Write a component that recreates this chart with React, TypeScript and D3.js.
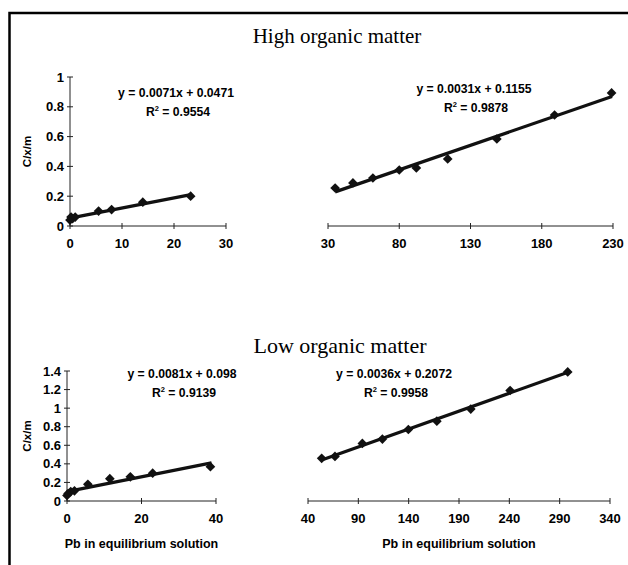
import React from "react";
import * as d3 from "d3";

// High organic matter
const highLowX = [0, 0.2, 0.5, 1, 5.5, 8, 14, 23.2];
const highLowY = [0.04, 0.06, 0.05, 0.06, 0.1, 0.11, 0.16, 0.2];
const highHighX = [35, 47.5, 61.5, 80, 92, 114, 148.5, 189, 229];
const highHighY = [0.255, 0.289, 0.322, 0.376, 0.39, 0.45, 0.584, 0.745, 0.893];

// Low organic matter
const lowLowX = [0, 0.3, 1, 2, 5.6, 11.5, 17, 23, 38.5];
const lowLowY = [0.06, 0.08, 0.1, 0.11, 0.18, 0.24, 0.26, 0.3, 0.37];
const lowHighX = [53.6, 66.8, 94, 113.9, 139.7, 168, 201.7, 240.8, 298];
const lowHighY = [0.46, 0.48, 0.62, 0.667, 0.77, 0.86, 0.99, 1.19, 1.39];

const equations = ["y = 0.0071x + 0.0471", "y = 0.0031x + 0.1155", "y = 0.0081x + 0.098", "y = 0.0036x + 0.2072"];
const rSquared = ["0.9554", "0.9878", "0.9139", "0.9958"];

const highYTicks = [0, 0.2, 0.4, 0.6, 0.8, 1];
const lowYTicks = [0, 0.2, 0.4, 0.6, 0.8, 1, 1.2, 1.4];
const xTicks1 = [0, 10, 20, 30];
const xTicks2 = [30, 80, 130, 180, 230];
const xTicks3 = [0, 20, 40];
const xTicks4 = [40, 90, 140, 190, 240, 290, 340];

const font = "Arial, 'Liberation Sans', sans-serif";
const serif = "'Liberation Serif', 'Times New Roman', serif";

// least squares trend line through the points
const fit = (xs: number[], ys: number[]) => {
  const mx = d3.mean(xs)!;
  const my = d3.mean(ys)!;
  const sxy = d3.sum(xs, (x, i) => (x - mx) * (ys[i] - my));
  const sxx = d3.sum(xs, (x) => (x - mx) ** 2);
  const b = sxy / sxx;
  return { a: my - b * mx, b };
};

const Panel = ({ xs, ys, x, y, xTicks, yTicks, eq, r2, eqX, eqY, showY, xLabel }: any) => {
  const { a, b } = fit(xs, ys);
  const x0 = d3.min(xs)!;
  const x1 = d3.max(xs)! + 0.3;
  const y0 = y(0);
  const left = x.range()[0];
  const yTop = y(d3.max(yTicks)!);
  const diamond = d3.symbol(d3.symbolDiamond2, 60)()!;
  return (
    <g>
      <line x1={x.range()[0]} x2={x.range()[1]} y1={y0} y2={y0} stroke="#222" strokeWidth={1} />
      {xTicks.map((t: number) => (
        <g key={t}>
          <line x1={x(t)} x2={x(t)} y1={y0 - 3} y2={y0 + 3} stroke="#222" />
          <text x={x(t)} y={y0 + 22} textAnchor="middle" fontSize={13} fontWeight="bold" fontFamily={font}>
            {t}
          </text>
        </g>
      ))}
      {showY && (
        <g>
          <line x1={left} x2={left} y1={y0} y2={yTop} stroke="#222" />
          {yTicks.map((t: number) => (
            <g key={t}>
              <line x1={left - 3} x2={left + 3} y1={y(t)} y2={y(t)} stroke="#222" />
              <text x={left - 6} y={y(t) + 4.5} textAnchor="end" fontSize={13} fontWeight="bold" fontFamily={font}>
                {t}
              </text>
            </g>
          ))}
          <text
            transform={`translate(31,${(y0 + yTop) / 2}) rotate(-90)`}
            textAnchor="middle"
            fontSize={11.5}
            fontWeight="bold"
            fontFamily={font}
          >
            C/x/m
          </text>
        </g>
      )}
      <line x1={x(x0)} y1={y(a + b * x0)} x2={x(x1)} y2={y(a + b * x1)} stroke="#111" strokeWidth={3.2} />
      {xs.map((v: number, i: number) => (
        <path key={i} d={diamond} transform={`translate(${x(v)},${y(ys[i])})`} fill="#111" />
      ))}
      <text x={eqX} y={eqY} textAnchor="middle" fontSize={12.2} fontWeight="bold" fontFamily={font}>
        {eq}
      </text>
      <text x={eqX + 2} y={eqY + 19} textAnchor="middle" fontSize={12.2} fontWeight="bold" fontFamily={font}>
        R<tspan dy={-5} fontSize={7.5}>2</tspan>
        <tspan dy={5}> = {r2}</tspan>
      </text>
      {xLabel && (
        <text x={(x.range()[0] + x.range()[1]) / 2} y={y0 + 47} textAnchor="middle" fontSize={12.5} fontWeight="bold" fontFamily={font}>
          {xLabel}
        </text>
      )}
    </g>
  );
};

export default function App() {
  const yHigh = d3.scaleLinear().domain([0, 1]).range([226, 77]);
  const yLow = d3.scaleLinear().domain([0, 1.4]).range([501, 371]);
  const x1 = d3.scaleLinear().domain([0, 30]).range([70, 226]);
  const x2 = d3.scaleLinear().domain([30, 230]).range([328, 613]);
  const x3 = d3.scaleLinear().domain([0, 40]).range([67, 216]);
  const x4 = d3.scaleLinear().domain([40, 340]).range([308, 610]);

  return (
    <svg width={628} height={565} style={{ position: "absolute", left: 0, top: 0, background: "#fff" }}>
      <rect x={9.5} y={13} width={640} height={600} fill="none" stroke="#000" strokeWidth={2.5} />
      <text x={337} y={43} textAnchor="middle" fontSize={21} fontFamily={serif}>
        High organic matter
      </text>
      <text x={340} y={353} textAnchor="middle" fontSize={22} fontFamily={serif}>
        Low organic matter
      </text>
      <Panel xs={highLowX} ys={highLowY} x={x1} y={yHigh} xTicks={xTicks1} yTicks={highYTicks} eq={equations[0]} r2={rSquared[0]} eqX={176} eqY={97} showY />
      <Panel xs={highHighX} ys={highHighY} x={x2} y={yHigh} xTicks={xTicks2} yTicks={highYTicks} eq={equations[1]} r2={rSquared[1]} eqX={474} eqY={93} />
      <Panel xs={lowLowX} ys={lowLowY} x={x3} y={yLow} xTicks={xTicks3} yTicks={lowYTicks} eq={equations[2]} r2={rSquared[2]} eqX={182} eqY={378} showY xLabel="Pb in equilibrium solution" />
      <Panel xs={lowHighX} ys={lowHighY} x={x4} y={yLow} xTicks={xTicks4} yTicks={lowYTicks} eq={equations[3]} r2={rSquared[3]} eqX={394} eqY={378} xLabel="Pb in equilibrium solution" />
    </svg>
  );
}
